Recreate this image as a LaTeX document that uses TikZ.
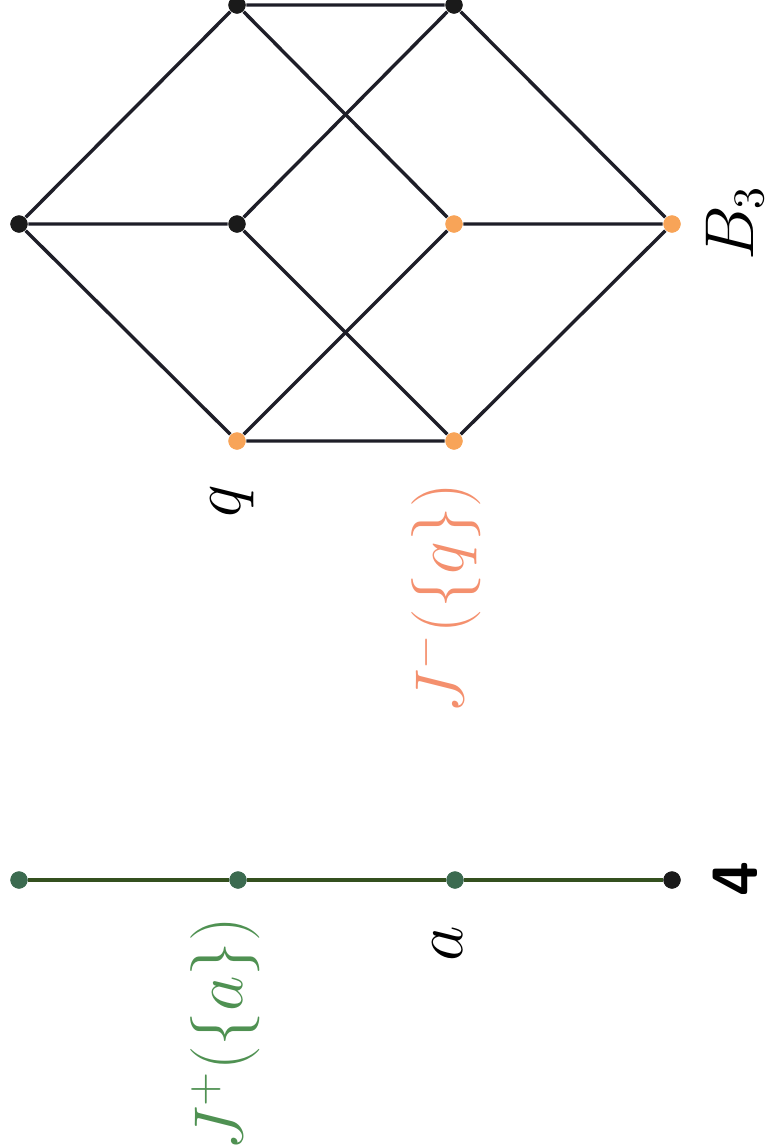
\documentclass[tikz,border=0pt]{standalone}
\definecolor{dotblack}{HTML}{1A1A1A}
\definecolor{dotorange}{HTML}{F8A458}
\definecolor{laborange}{HTML}{F4906E}
\definecolor{dotgreen}{HTML}{3C6B50}
\definecolor{labgreen}{HTML}{4F9152}
\definecolor{chainline}{HTML}{34501F}
\definecolor{edgecol}{HTML}{1E1E28}
\begin{document}
\begin{tikzpicture}[x=0.25pt,y=-0.25pt,
  vtx/.style={circle,inner sep=0pt,minimum size=4.3pt},
  blk/.style={vtx,fill=dotblack},
  org/.style={vtx,fill=dotorange},
  grn/.style={vtx,fill=dotgreen},
  edge/.style={draw=edgecol,line width=0.85pt},
  chain/.style={draw=chainline,line width=1pt},
  lab/.style={rotate=90,anchor=base,inner sep=0pt,font=\fontsize{16}{19}\selectfont}]
\useasboundingbox (0,0) rectangle (769,1147);
% B3 vertices
\node[blk] (top) at (19,224) {};
\node[blk] (u1) at (237,5) {};
\node[blk] (u2) at (237,224) {};
\node[org] (q) at (237,441) {};
\node[blk] (m1) at (454,5) {};
\node[org] (m2) at (454,224) {};
\node[org] (m3) at (454,441) {};
\node[org] (bot) at (672,224) {};
\draw[edge] (top) -- (u1) (top) -- (u2) (top) -- (q);
\draw[edge] (u1) -- (m1) (u1) -- (m2);
\draw[edge] (u2) -- (m1) (u2) -- (m3);
\draw[edge] (q) -- (m2) (q) -- (m3);
\draw[edge] (m1) -- (bot) (m2) -- (bot) (m3) -- (bot);
% re-draw vertices on top
\node[blk] at (top) {};
\node[blk] at (u1) {};
\node[blk] at (u2) {};
\node[org] at (q) {};
\node[blk] at (m1) {};
\node[org] at (m2) {};
\node[org] at (m3) {};
\node[org] at (bot) {};
% chain 4
\node[grn] (c4) at (19,880) {};
\node[grn] (c3) at (238,880) {};
\node[grn] (c2) at (455,880) {};
\node[blk] (c1) at (672,880) {};
\draw[chain] (c4) -- (c3) -- (c2) -- (c1);
\node[grn] at (c4) {};
\node[grn] at (c3) {};
\node[grn] at (c2) {};
\node[blk] at (c1) {};
% labels
\node[lab] (lq) at (240,501) {$q$};
\node[lab,text=laborange] (ljm) at (463,598) {$J^-(\{q\})$};
\node[lab] (lB) at (753,223) {$B_3$};
\node[lab] (la) at (462,944) {$a$};
\node[lab,text=labgreen] (ljp) at (242,1034) {$J^+(\{a\})$};
\node[lab,font=\fontsize{16}{19}\selectfont\sffamily\bfseries] (l4) at (757,879) {4};
\end{tikzpicture}
\end{document}
